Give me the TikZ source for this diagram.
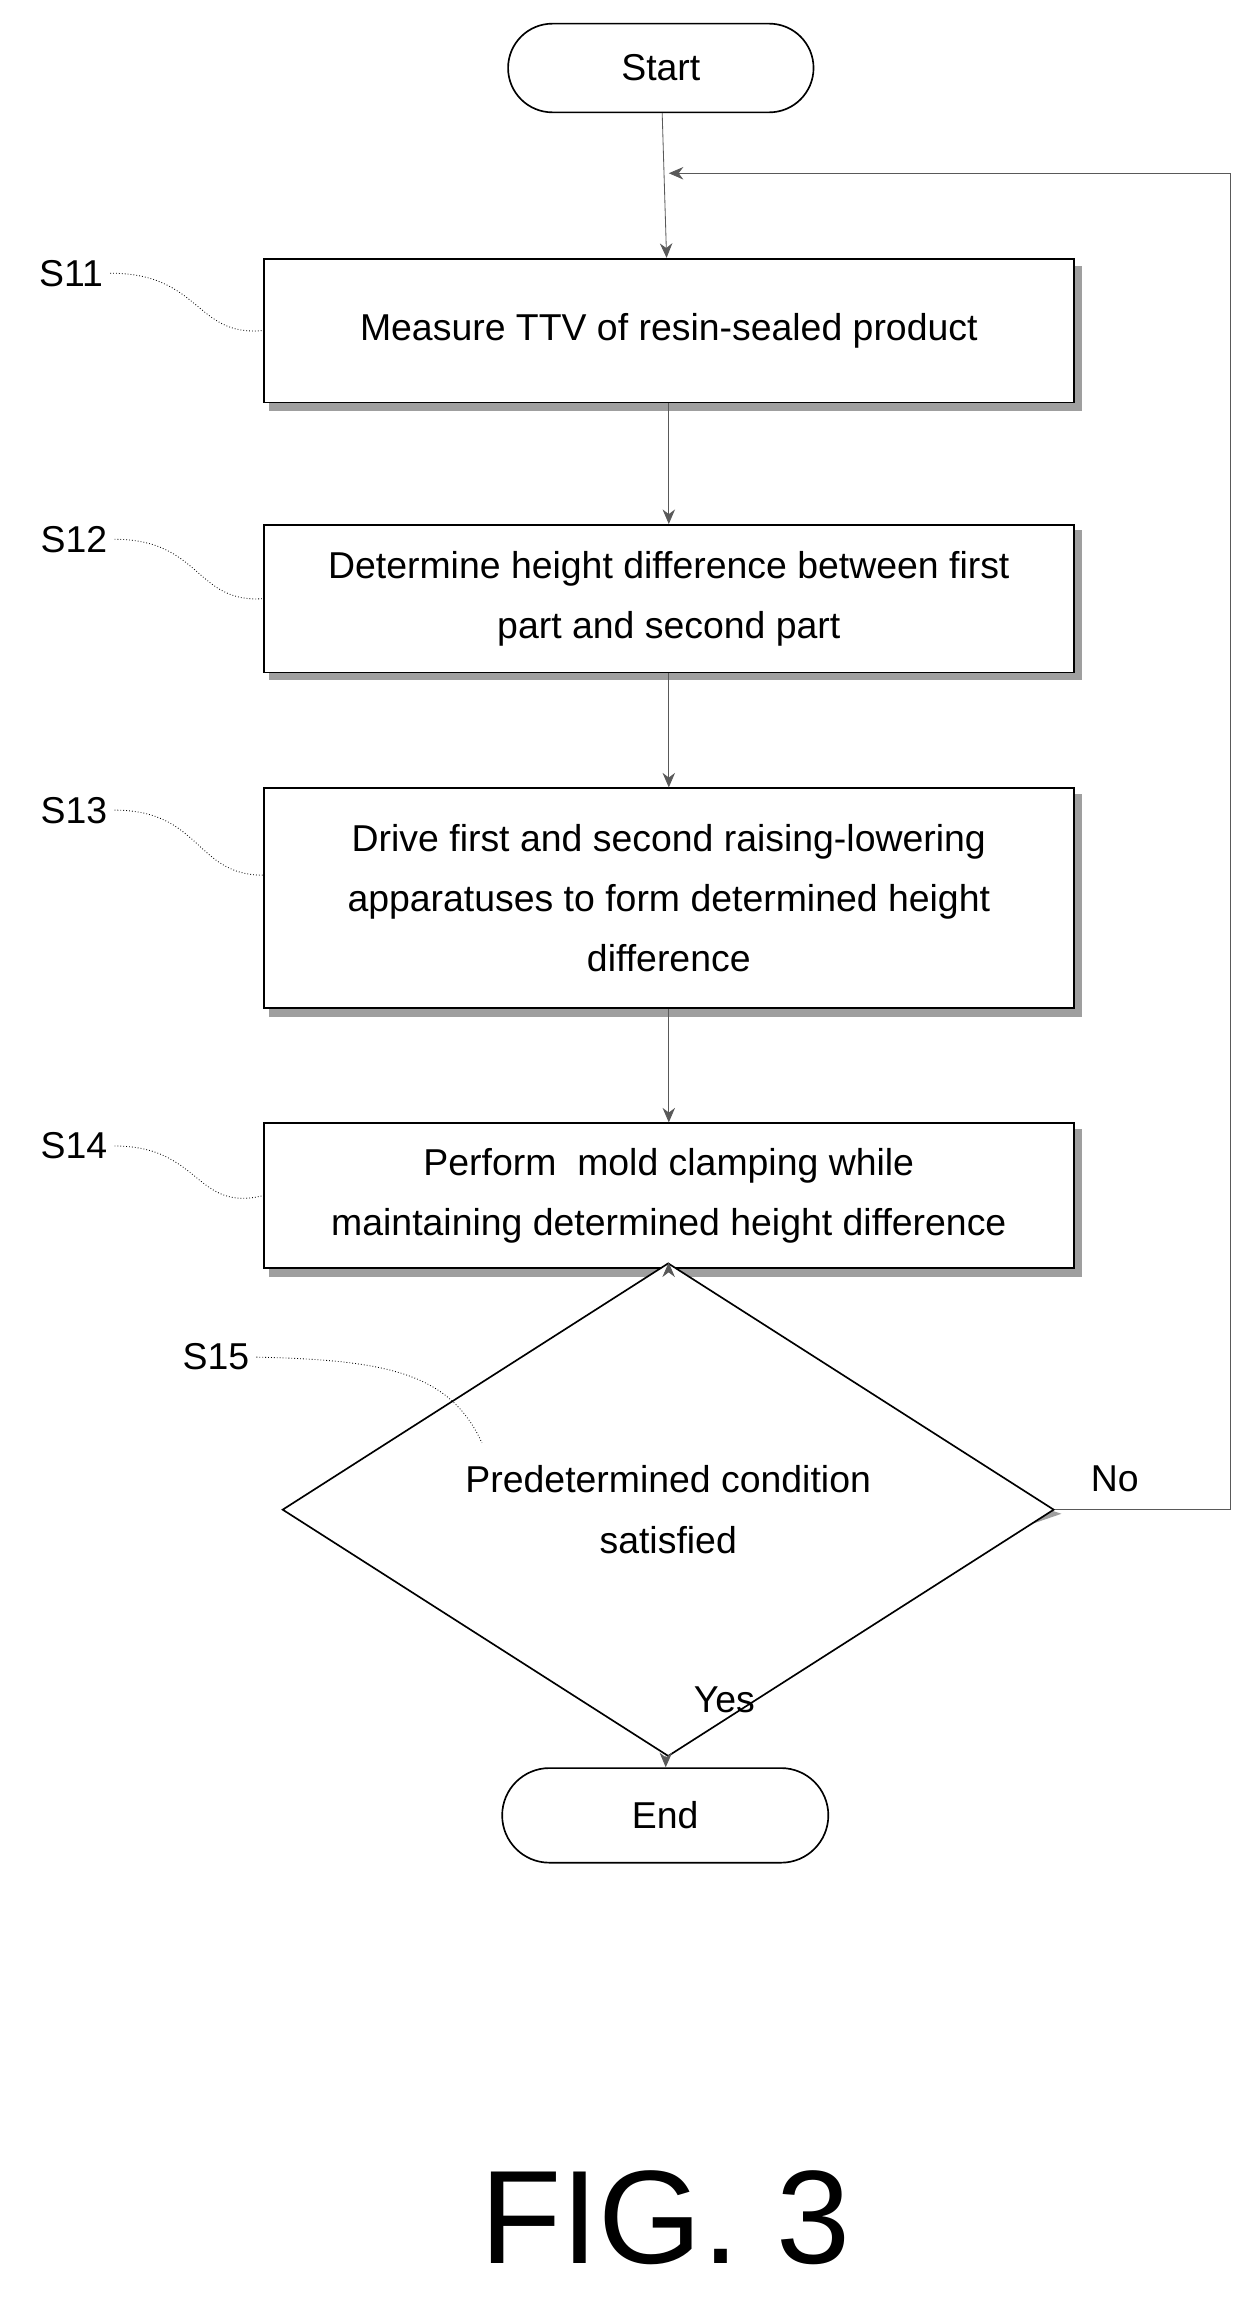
\documentclass[tikz,border=0pt]{standalone}
\usepackage{fontspec}
\setmainfont{Liberation Sans}
\usetikzlibrary{shapes.geometric,shapes.misc,arrows.meta}
\tikzstyle{stp}=[rectangle,draw=black,thick,minimum width=13.7cm,align=center,font=\fontsize{18}{29}\selectfont]
\tikzstyle{term}=[rounded rectangle,draw=black,thick,font=\fontsize{18}{29}\selectfont]
\tikzstyle{lbl}=[font=\fontsize{18}{24}\selectfont]
\tikzstyle{ar}=[-{Stealth[length=7pt,width=6pt]},thin,gray!70!black]
\tikzstyle{wav}=[thin,densely dotted]

\begin{document}
\begin{tikzpicture}
\useasboundingbox (0,0) rectangle (21.2,-39.2);
% shadows
\fill[gray!75] (4.55,-4.5) rectangle (18.3,-6.95);
\fill[gray!75] (4.55,-8.97) rectangle (18.3,-11.5);
\fill[gray!75] (4.55,-13.43) rectangle (18.3,-17.2);
\fill[gray!75] (4.55,-19.1) rectangle (18.3,-21.6);
\fill[gray!75] (4.95,-25.6) -- (11.4,-23.4) -- (17.95,-25.6) -- (11.4,-27.85) -- cycle;
% nodes
\node[term,minimum width=5.4cm,minimum height=1.5cm,fill=white] (start) at (11.175,-1.15) {Start};
\node[stp,minimum height=2.43cm,fill=white] (s11) at (11.31,-5.59) {Measure TTV of resin-sealed product};
\node[stp,minimum height=2.5cm,fill=white] (s12) at (11.31,-10.125) {Determine height difference between first\\part and second part};
\node[stp,minimum height=3.72cm,fill=white] (s13) at (11.31,-15.19) {Drive first and second raising-lowering\\apparatuses to form determined height\\difference};
\node[stp,minimum height=2.45cm,fill=white] (s14) at (11.31,-20.22) {Perform\ \ mold clamping while\\maintaining determined height difference};
\node[diamond,draw=black,thick,fill=white,minimum width=13.05cm,minimum height=4.43cm,inner sep=0pt,align=center,font=\fontsize{18}{29}\selectfont] (s15) at (11.3,-25.53) {Predetermined condition\\satisfied};
\node[term,minimum width=5.75cm,minimum height=1.6cm,fill=white] (end) at (11.25,-30.7) {End};
% step labels
\node[lbl] (l11) at (1.2,-4.62) {S11};
\node[lbl] (l12) at (1.25,-9.12) {S12};
\node[lbl] (l13) at (1.25,-13.7) {S13};
\node[lbl] (l14) at (1.25,-19.38) {S14};
\node[lbl] (l15) at (3.65,-22.95) {S15};
\draw[wav] (l11.east) .. controls (3.4,-4.62) and (3.3,-5.7) .. (s11.west);
\draw[wav] (l12.east) .. controls (3.4,-9.12) and (3.3,-10.2) .. (s12.west);
\draw[wav] (l13.east) .. controls (3.4,-13.7) and (3.3,-14.8) .. (4.45,-14.8);
\draw[wav] (l14.east) .. controls (3.4,-19.38) and (3.3,-20.5) .. (s14.west);
\draw[wav] (l15.east) .. controls (6.5,-23.0) and (7.6,-23.2) .. (8.15,-24.4);
% connectors
\coordinate (loopin) at (11.31,-2.93);
\coordinate (c1) at (20.8,-25.53);
\coordinate (c2) at (20.8,-2.93);
\draw[ar] (start) -- (s11);
\draw[ar] (s11) -- (s12);
\draw[ar] (s12) -- (s13);
\draw[ar] (s13) -- (s14);
\draw[ar] (s14) -- (s15);
\draw[ar] (s15) -- (end);
\draw[ar] (s15.east) -- (c1) -- (c2) -- (loopin);
\node[lbl] (no) at (18.85,-25.0) {No};
\node[lbl] (yes) at (12.25,-28.75) {Yes};
\node[font=\fontsize{64}{70}\selectfont] (fig) at (11.25,-37.5) {FIG. 3};
\end{tikzpicture}
\end{document}
